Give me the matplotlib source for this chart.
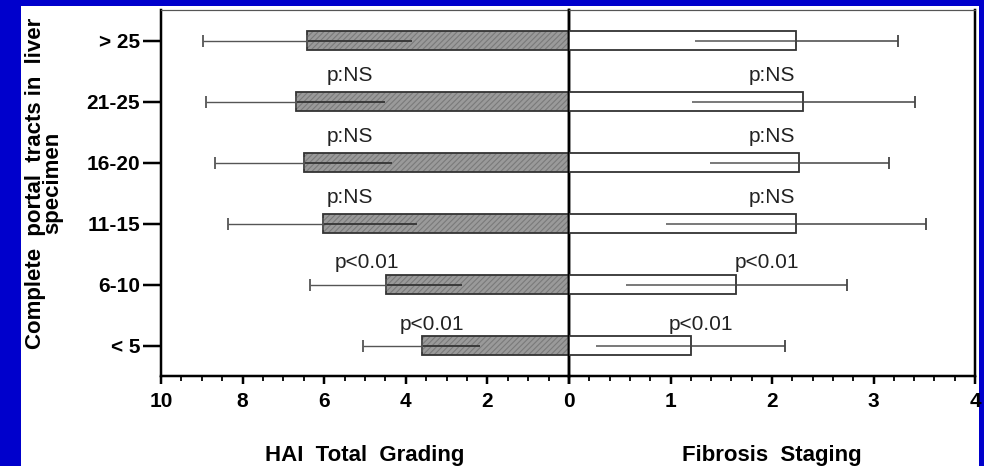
import numpy as np
import matplotlib
matplotlib.use("Agg")
import matplotlib.pyplot as plt
from matplotlib.patches import Rectangle
from matplotlib.ticker import MultipleLocator, FixedLocator

plt.rcParams['font.family'] = ['Liberation Sans', 'DejaVu Sans']
plt.rcParams['hatch.linewidth'] = 0.8

# Groups by number of complete portal tracts (bottom to top)
categories = ['< 5', '6-10', '11-15', '16-20', '21-25', '> 25']

# HAI total grading: mean and SD per group
hai_mean = [3.61, 4.49, 6.04, 6.50, 6.70, 6.41]
hai_sd = [1.43, 1.87, 2.31, 2.17, 2.20, 2.55]

# Fibrosis staging: mean and SD per group
fib_mean = [1.20, 1.65, 2.24, 2.27, 2.31, 2.24]
fib_sd = [0.93, 1.09, 1.28, 0.88, 1.10, 1.00]

# Significance labels per group (vs. the > 25 group)
p_labels = ['p<0.01', 'p<0.01', 'p:NS', 'p:NS', 'p:NS', '']

# Placement of the significance labels along each x axis
p_x_left = [3.36, 4.96, 5.37, 5.37, 5.37, 5.37]
p_x_right = [1.30, 1.95, 2.00, 2.00, 2.00, 2.00]
p_dy = [0.34, 0.36, 0.42, 0.42, 0.42, 0.42]

W, H = 984, 466
PX = 0.72  # points per pixel at 100 dpi
fig = plt.figure(figsize=(W / 100, H / 100), dpi=100, facecolor='#0000cc')
fig.add_artist(Rectangle((21 / W, 0), (979 - 21) / W, (H - 6) / H,
                         transform=fig.transFigure, facecolor='white',
                         edgecolor='none', zorder=0))

bottom = 1 - 376 / H
height = (376 - 10) / H
axL = fig.add_axes([161 / W, bottom, (569 - 161) / W, height])
axR = fig.add_axes([569 / W, bottom, (975 - 569) / W, height])

y = np.arange(len(categories))
zeros = np.zeros(len(categories))
bar_h = 0.32
spine_w = 2.5 * PX

# Left panel: HAI grading (axis runs from 10 down to 0)
axL.barh(y, hai_mean, height=bar_h, color='#9a9a9a', edgecolor='#7a7a7a',
         hatch='//////', linewidth=0, zorder=2)
axL.barh(y, hai_mean, height=bar_h, fill=False, edgecolor='#333333',
         linewidth=1.3, zorder=3)
axL.errorbar(hai_mean, y, xerr=[hai_sd, zeros], fmt='none', ecolor='#333333',
             elinewidth=1.3, capsize=0, zorder=4)
axL.errorbar(hai_mean, y, xerr=[zeros, hai_sd], fmt='none', ecolor='#555555',
             elinewidth=1.0, capsize=4, capthick=1.3, zorder=4)

# Right panel: fibrosis staging
axR.barh(y, fib_mean, height=bar_h, color='white', edgecolor='#333333',
         linewidth=1.3, zorder=3)
axR.errorbar(fib_mean, y, xerr=[fib_sd, zeros], fmt='none', ecolor='#555555',
             elinewidth=1.1, capsize=0, zorder=4)
axR.errorbar(fib_mean, y, xerr=[zeros, fib_sd], fmt='none', ecolor='#444444',
             elinewidth=1.1, capsize=4, capthick=1.3, zorder=4)

for i, lab in enumerate(p_labels):
    if lab:
        axL.text(p_x_left[i], y[i] + p_dy[i], lab, ha='center', va='center',
                 fontsize=15, color='#222222')
        axR.text(p_x_right[i], y[i] + p_dy[i], lab, ha='center', va='center',
                 fontsize=15, color='#222222')

for ax in (axL, axR):
    ax.set_facecolor('none')
    ax.set_ylim(-0.5, 5.5)
    ax.spines['top'].set_linewidth(1.2 * PX)
    ax.spines['top'].set_color('#555555')
    ax.spines['bottom'].set_linewidth(spine_w)
    ax.tick_params(axis='x', which='major', direction='out', length=8 * PX,
                   width=spine_w, pad=5.5)
    ax.tick_params(axis='x', which='minor', direction='out', length=5 * PX,
                   width=1.8 * PX)

axL.set_xlim(10, 0)
axL.xaxis.set_major_locator(FixedLocator([10, 8, 6, 4, 2, 0]))
axL.xaxis.set_minor_locator(MultipleLocator(0.5))
axL.set_xticklabels(['10', '8', '6', '4', '2', '0'], fontweight='bold',
                    fontsize=15)
axL.spines['left'].set_linewidth(spine_w)
axL.spines['right'].set_linewidth(spine_w)
axL.set_yticks(y)
axL.set_yticklabels(categories, fontweight='bold', fontsize=15)
axL.tick_params(axis='y', direction='out', length=18 * PX, width=spine_w,
                pad=2)

axR.set_xlim(0, 4)
axR.xaxis.set_major_locator(FixedLocator([0, 1, 2, 3, 4]))
axR.xaxis.set_minor_locator(MultipleLocator(0.2))
axR.set_xticklabels(['', '1', '2', '3', '4'], fontweight='bold', fontsize=15)
axR.spines['left'].set_linewidth(spine_w)
axR.spines['right'].set_linewidth(spine_w)
axR.set_yticks([])

axL.set_xlabel('HAI  Total  Grading', fontsize=16, fontweight='bold',
               labelpad=25)
axR.set_xlabel('Fibrosis  Staging', fontsize=16, fontweight='bold',
               labelpad=25)

fig.text(44 / W, 1 - 183 / H, 'Complete  portal  tracts in  liver\nspecimen',
         rotation=90, ha='center', va='center', multialignment='center',
         fontsize=16, fontweight='bold', linespacing=0.75)

fig.savefig('out.png', dpi=100, facecolor=fig.get_facecolor())
